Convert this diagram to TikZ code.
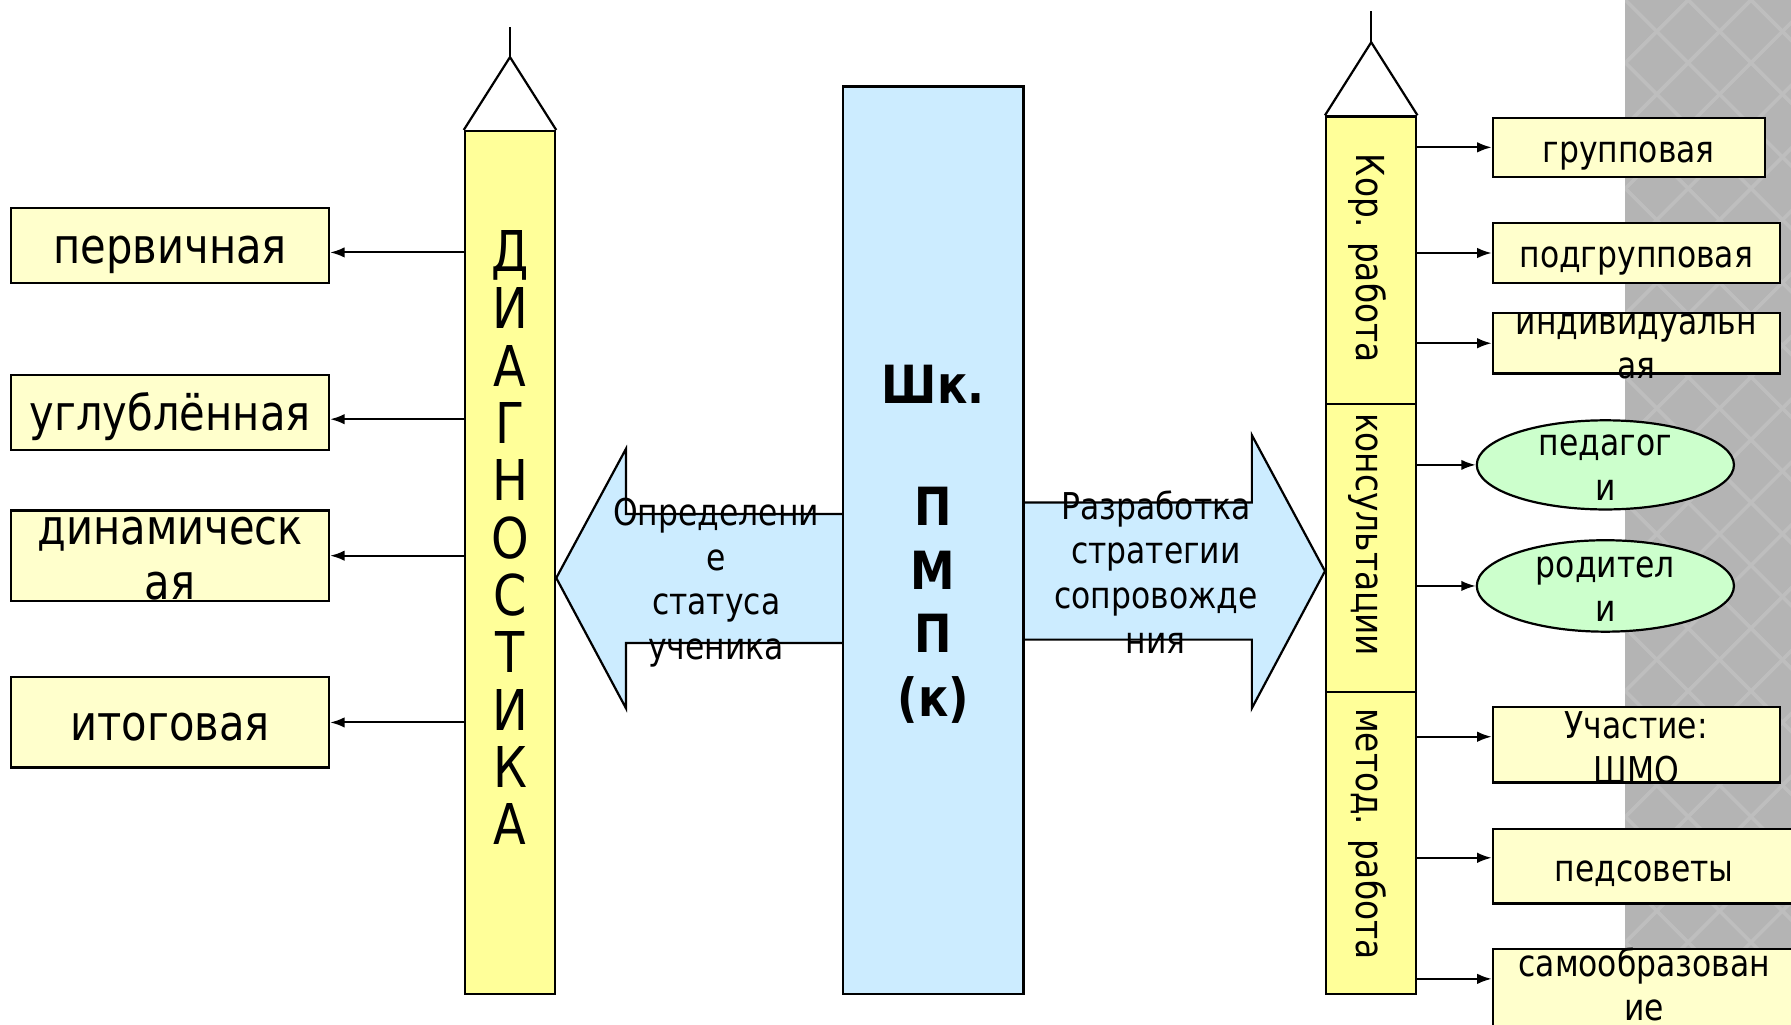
\documentclass[tikz,border=0pt]{standalone}
\usepackage{fontspec}
\setmainfont{DejaVu Sans}[FakeStretch=0.85]
\usetikzlibrary{arrows.meta,shapes.geometric}
\definecolor{boxY}{HTML}{FFFFCC}
\definecolor{colY}{HTML}{FFFF99}
\definecolor{blueF}{HTML}{CCECFF}
\definecolor{greenF}{HTML}{CCFFCC}
\definecolor{bgGray}{HTML}{B4B4B4}
\definecolor{bgLine}{HTML}{BEBEBE}
\newcommand\mystrut{\rule[-0.17\baselineskip]{0pt}{\baselineskip}}
\tikzset{
  shapeline/.style={draw=black, line width=0.55pt},
  ybox/.style={shapeline, fill=boxY, rectangle, inner sep=0pt},
  ycol/.style={shapeline, fill=colY, rectangle, inner sep=0pt, minimum width=0.79cm},
  gell/.style={shapeline, fill=greenF, ellipse, inner sep=0pt, minimum width=2.25cm},
  conn/.style={line width=0.5pt, -{Latex[length=3.6pt,width=2.6pt]}},
  basetxt/.style={inner sep=0pt, align=center, text=black,
    execute at begin node=\mystrut, execute at end node=\mystrut},
  multi/.style={yshift=-1.7pt},
  txt/.style={basetxt, font=\fontsize{9.2}{11.1}\selectfont},
  bigtxt/.style={basetxt, font=\fontsize{12.2}{13.7}\selectfont},
  coltxt/.style={basetxt, font=\fontsize{9.6}{11.5}\selectfont, rotate=-90},
  lettxt/.style={basetxt, multi, font=\fontsize{14}{14.28}\selectfont},
  boldtxt/.style={basetxt, multi, font=\bfseries\fontsize{13.1}{15.8}\selectfont},
}
\begin{document}
\begin{tikzpicture}[x=0.01cm,y=-0.01cm]
\clip (0,0) rectangle (1568,897);
\fill[white] (0,0) rectangle (1568,897);
% patterned gray band on the right
\fill[bgGray] (1423,0) rectangle (1568,897);
\begin{scope}
  \clip (1423,0) rectangle (1568,897);
  \foreach \k in {-18,...,28}{
    \draw[bgLine, line width=0.9pt] (1423+\k*55,0) -- ++(900,900);
    \draw[bgLine, line width=0.9pt] (1423+\k*55,0) -- ++(-900,900);
  }
\end{scope}

% big block arrows
\fill[blueF] (738,450) -- (548,450) -- (548,393) -- (487,506) -- (548,620) -- (548,563) -- (738,563) -- cycle;
\draw[shapeline] (738,450) -- (548,450) -- (548,393) -- (487,506) -- (548,620) -- (548,563) -- (738,563);
\fill[blueF] (896,440) -- (1096,440) -- (1096,381) -- (1160,500) -- (1096,620) -- (1096,560) -- (896,560) -- cycle;
\draw[shapeline] (896,440) -- (1096,440) -- (1096,381) -- (1160,500) -- (1096,620) -- (1096,560) -- (896,560);

% columns and central block
\node[ycol, minimum height=7.55cm] (diag) at (446.5,492.5) {};
\node[shapeline, fill=blueF, rectangle, inner sep=0pt, minimum width=1.58cm, minimum height=7.94cm] (shk) at (817,473) {};
\node[ycol, minimum height=2.52cm] (kor) at (1200.5,228) {};
\node[ycol, minimum height=2.52cm] (kons) at (1200.5,480) {};
\node[ycol, minimum height=2.64cm] (metod) at (1200.5,738) {};

% pencil tips
\coordinate (lapex) at (446.5,50);
\coordinate (lspike) at (446.5,24);
\draw[shapeline] (diag.north west) -- (lapex) -- (diag.north east);
\draw[shapeline] (lapex) -- (lspike);
\coordinate (rapex) at (1200.5,37);
\coordinate (rspike) at (1200.5,10);
\draw[shapeline] (kor.north west) -- (rapex) -- (kor.north east);
\draw[shapeline] (rapex) -- (rspike);

% left boxes
\node[ybox, minimum width=2.78cm, minimum height=0.66cm] (perv) at (149,215) {};
\node[ybox, minimum width=2.78cm, minimum height=0.66cm] (uglub) at (149,361) {};
\node[ybox, minimum width=2.78cm, minimum height=0.79cm] (dinam) at (149,486.5) {};
\node[ybox, minimum width=2.78cm, minimum height=0.79cm] (itog) at (149,632.5) {};

% right boxes
\node[ybox, minimum width=2.38cm, minimum height=0.52cm] (grup) at (1426,129) {};
\node[ybox, minimum width=2.51cm, minimum height=0.53cm] (podgr) at (1432.5,221.5) {};
\node[ybox, minimum width=2.51cm, minimum height=0.53cm] (indiv) at (1432.5,300.5) {};
\node[gell, minimum height=0.78cm] (ped) at (1405.5,407) {};
\node[gell, minimum height=0.80cm] (rod) at (1405.5,513) {};
\node[ybox, minimum width=2.51cm, minimum height=0.66cm] (uch) at (1432.5,652) {};
\node[ybox, minimum width=2.65cm, minimum height=0.65cm] (pedsov) at (1439.5,758.5) {};
\node[ybox, minimum width=2.65cm, minimum height=0.68cm] (samo) at (1439.5,865) {};

% connectors
\draw[conn] (diag.west |- 0,221) -- (perv.east |- 0,221);
\draw[conn] (diag.west |- 0,367) -- (uglub.east |- 0,367);
\draw[conn] (diag.west |- dinam.east) -- (dinam.east);
\draw[conn] (diag.west |- itog.east) -- (itog.east);
\draw[conn] (kor.east |- grup.west) -- (grup.west);
\draw[conn] (kor.east |- podgr.west) -- (podgr.west);
\draw[conn] (kor.east |- indiv.west) -- (indiv.west);
\draw[conn] (kons.east |- ped.west) -- (ped.west);
\draw[conn] (kons.east |- rod.west) -- (rod.west);
\draw[conn] (metod.east |- 0,645) -- (uch.west |- 0,645);
\draw[conn] (metod.east |- 0,751) -- (pedsov.west |- 0,751);
\draw[conn] (metod.east |- 0,857) -- (samo.west |- 0,857);

% texts
\node[lettxt] (diagT) at (446.5,469) {Д\\И\\А\\Г\\Н\\О\\С\\Т\\И\\К\\А};
\node[boldtxt] (shkT) at (817,472) {Шк.\\[14.7pt]П\\М\\П\\(к)};
\node[coltxt] (korT) at (1200.5,226) {Кор. работа};
\node[coltxt] (konsT) at (1200.5,468) {консультации};
\node[coltxt] (metodT) at (1200.5,730) {метод. работа};

\node[txt, multi] (leftT) at (627,504) {Определени\\е\\статуса\\ученика};
\node[txt, multi] (rightT) at (1012,498) {Разработка\\стратегии\\сопровожде\\ния};

\node[bigtxt] (pervT) at (perv) {первичная};
\node[bigtxt] (uglubT) at (uglub) {углублённая};
\node[bigtxt, multi] (dinamT) at (dinam) {динамическ\\ая};
\node[bigtxt] (itogT) at (itog) {итоговая};

\node[txt] (grupT) at (grup) {групповая};
\node[txt] (podgrT) at (podgr) {подгрупповая};
\node[txt, multi] (indivT) at (indiv) {индивидуальн\\ая};
\node[txt, multi] (pedT) at (ped) {педагог\\и};
\node[txt, multi] (rodT) at (rod) {родител\\и};
\node[txt, multi] (uchT) at (uch) {Участие:\\ШМО};
\node[txt] (pedsovT) at (pedsov) {педсоветы};
\node[txt] (samoT) at (samo) {самообразован\\ие};
\end{tikzpicture}
\end{document}
